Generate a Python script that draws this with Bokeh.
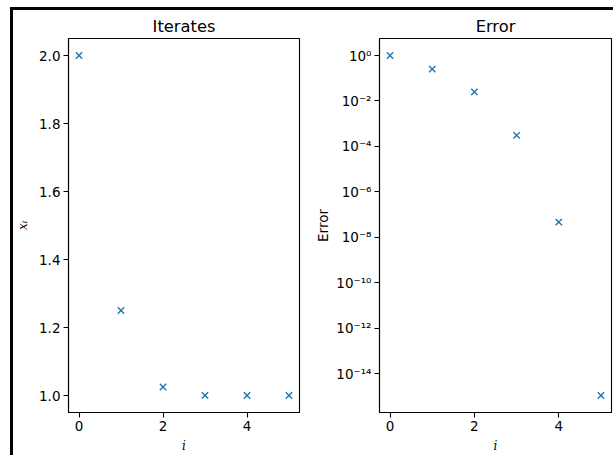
from bokeh.plotting import figure
from bokeh.layouts import row
from bokeh.models import Range1d, FixedTicker, CustomJSTickFormatter, PrintfTickFormatter
from bokeh.embed import file_html
from bokeh.resources import INLINE
import math

# data
iterations = [0, 1, 2, 3, 4, 5]
iterates = [2.0, 1.25, 1.025, 1.000305, 1.0000000465, 1.0]
errors = [1.0, 0.25, 0.025, 3.05e-4, 4.65e-8, 1.1e-15]
xticks = [0, 2, 4]
yticks_left = [1.0, 1.2, 1.4, 1.6, 1.8, 2.0]
yticks_right = [1e0, 1e-2, 1e-4, 1e-6, 1e-8, 1e-10, 1e-12, 1e-14]
ytick_labels_right = ["10⁰", "10⁻²", "10⁻⁴", "10⁻⁶", "10⁻⁸", "10⁻¹⁰", "10⁻¹²", "10⁻¹⁴"]

BLUE = "#1f77b4"
FONT = "DejaVu Sans"
TICK_FS = "13.5px"


def style(p):
    p.title.text_font = FONT
    p.title.text_font_size = "16.3px"
    p.title.text_font_style = "normal"
    p.title.align = "center"
    p.title.text_color = "black"
    p.title.standoff = 6
    p.outline_line_color = "black"
    p.outline_line_width = 1.1
    p.xgrid.visible = False
    p.ygrid.visible = False
    p.background_fill_color = "white"
    p.border_fill_color = "white"
    for ax in (p.xaxis[0], p.yaxis[0]):
        ax.major_label_text_font = FONT
        ax.major_label_text_font_size = TICK_FS
        ax.major_label_text_color = "black"
        ax.axis_label_text_color = "black"
        ax.axis_line_color = "black"
        ax.axis_line_width = 1.1
        ax.major_tick_in = 0
        ax.major_tick_out = 5
        ax.major_tick_line_color = "black"
        ax.major_tick_line_width = 1.1
        ax.minor_tick_line_color = None
        ax.major_label_standoff = 3
    p.xaxis.ticker = FixedTicker(ticks=xticks)
    p.xaxis.axis_label = "i"
    p.xaxis.axis_label_text_font = "DejaVu Serif"
    p.xaxis.axis_label_text_font_style = "italic"
    p.xaxis.axis_label_text_font_size = "12px"
    p.xaxis.axis_label_standoff = 5


pad = 0.05 * (max(iterations) - min(iterations))
ypad = 0.05 * (max(iterates) - min(iterates))

p1 = figure(width=297, height=445, output_backend="svg", toolbar_location=None,
            title="Iterates",
            x_range=Range1d(min(iterations) - pad, max(iterations) + pad),
            y_range=Range1d(min(iterates) - ypad, max(iterates) + ypad),
            min_border_left=54, min_border_right=11, min_border_top=28, min_border_bottom=41)
p1.scatter(iterations, iterates, marker="x", size=9, line_width=1.4, color=BLUE)
style(p1)
p1.yaxis.ticker = FixedTicker(ticks=yticks_left)
p1.yaxis.formatter = PrintfTickFormatter(format="%.1f")
p1.yaxis.axis_label = "xᵢ"
p1.yaxis.axis_label_text_font = "DejaVu Serif"
p1.yaxis.axis_label_text_font_style = "italic"
p1.yaxis.axis_label_text_font_size = "12px"
p1.yaxis.axis_label_standoff = 6

lo = math.log10(min(errors))
hi = math.log10(max(errors))
lpad = 0.05 * (hi - lo)
p2 = figure(width=303, height=445, output_backend="svg", toolbar_location=None,
            title="Error", x_range=Range1d(min(iterations) - pad, max(iterations) + pad),
            y_axis_type="log",
            y_range=Range1d(10 ** (lo - lpad), 10 ** (hi + lpad)),
            min_border_left=69, min_border_right=2, min_border_top=28, min_border_bottom=41)
p2.scatter(iterations, errors, marker="x", size=9, line_width=1.4, color=BLUE)
style(p2)
p2.yaxis.ticker = FixedTicker(ticks=yticks_right)
p2.yaxis.formatter = CustomJSTickFormatter(
    args=dict(labels=ytick_labels_right),
    code="const e = Math.round(-Math.log10(tick) / 2); return labels[e];")
p2.yaxis.axis_label = "Error"
p2.yaxis.axis_label_text_font = FONT
p2.yaxis.axis_label_text_font_style = "normal"
p2.yaxis.axis_label_text_font_size = TICK_FS
p2.yaxis.axis_label_standoff = 2

layout = row(p1, p2, styles={"border-left": "3px solid black", "border-top": "3px solid black",
                             "margin-left": "10px", "margin-top": "7px"})

open("out.html", "w").write(file_html(layout, INLINE))
